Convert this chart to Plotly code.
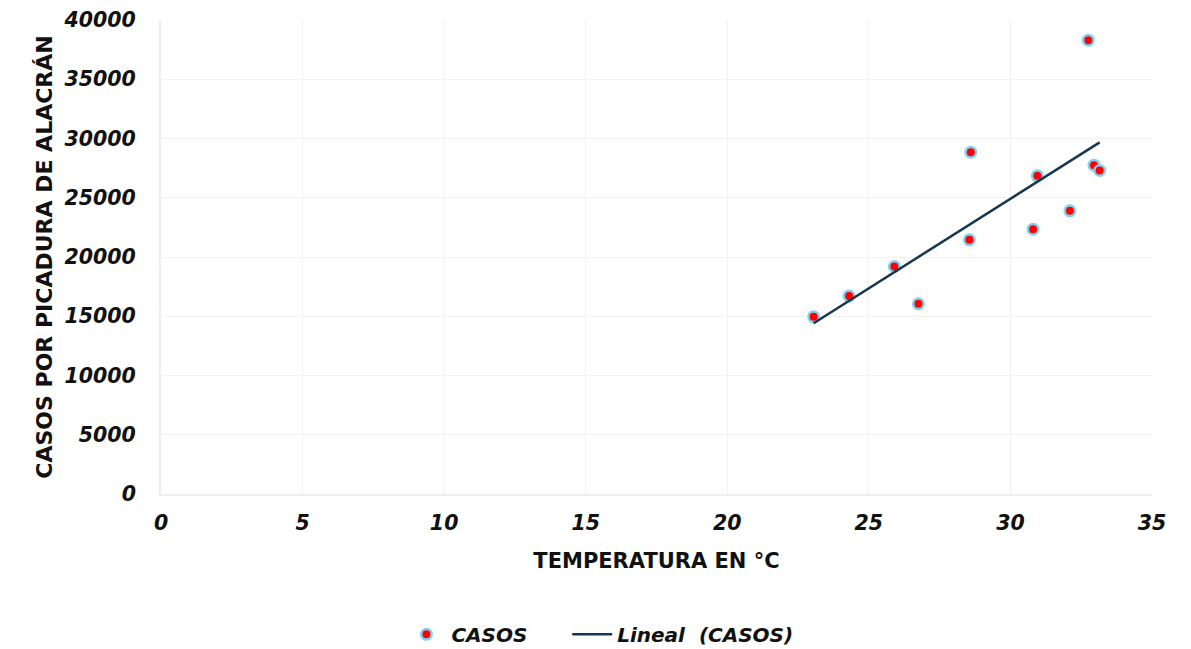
import numpy as np
import plotly.graph_objects as go

temperatura = [23.05, 24.3, 25.9, 26.75, 28.6, 28.55, 30.8, 30.95, 32.1, 32.75, 32.95, 33.15]
casos = [14950, 16700, 19200, 16050, 28850, 21450, 22350, 26850, 23900, 38300, 27750, 27300]

x_ticks = [0, 5, 10, 15, 20, 25, 30, 35]
y_ticks = [0, 5000, 10000, 15000, 20000, 25000, 30000, 35000, 40000]

slope, intercept = np.polyfit(temperatura, casos, 1)
tx = [min(temperatura), max(temperatura)]
ty = [slope * v + intercept for v in tx]

FONT = "DejaVu Sans"
tick_font = dict(family=FONT, size=20.5, color="#111111", style="italic", weight="bold")
title_font = dict(family=FONT, size=21, color="#111111", weight="bold")

fig = go.Figure()
fig.add_trace(go.Scatter(
    x=temperatura, y=casos, mode="markers", name="CASOS     ",
    marker=dict(color="#ff0000", size=10.5, line=dict(color="#7fd0f0", width=2.5)),
))
fig.add_trace(go.Scatter(
    x=tx, y=ty, mode="lines", name="Lineal  (CASOS)",
    line=dict(color="#17364f", width=2.5),
))

fig.update_layout(
    width=1191, height=649,
    margin=dict(l=153, r=47, t=12, b=163, autoexpand=False),
    paper_bgcolor="white", plot_bgcolor="white",
    showlegend=True,
    legend=dict(orientation="h", x=0.497, xanchor="center", xref="container",
                y=0.035, yanchor="middle", yref="container",
                font=dict(family=FONT, size=20, color="#111111", style="italic", weight="bold"),
                itemwidth=40, traceorder="normal"),
)
fig.update_xaxes(
    range=[0, 35], tickvals=x_ticks, ticktext=[str(v) for v in x_ticks],
    showgrid=True, gridcolor="#f2f2f2", gridwidth=1, automargin=False,
    showline=True, linecolor="#eeeeee", linewidth=2,
    zeroline=False, ticks="", tickfont=tick_font, ticklabelstandoff=9,
    ticklabeloverflow="allow",
    title=dict(text="TEMPERATURA EN °C", font=title_font, standoff=20),
)
fig.update_yaxes(
    range=[0, 40000], tickvals=y_ticks, ticktext=[str(v) for v in y_ticks],
    showgrid=True, gridcolor="#f2f2f2", gridwidth=1, automargin=False,
    showline=True, linecolor="#eeeeee", linewidth=2,
    zeroline=False, ticks="", tickfont=tick_font, ticklabelstandoff=19,
    ticklabeloverflow="allow",
    title=dict(text="CASOS POR PICADURA DE ALACRÁN", font=dict(family=FONT, size=22, color="#111111", weight="bold"), standoff=5),
)

fig.write_html("out.html")
